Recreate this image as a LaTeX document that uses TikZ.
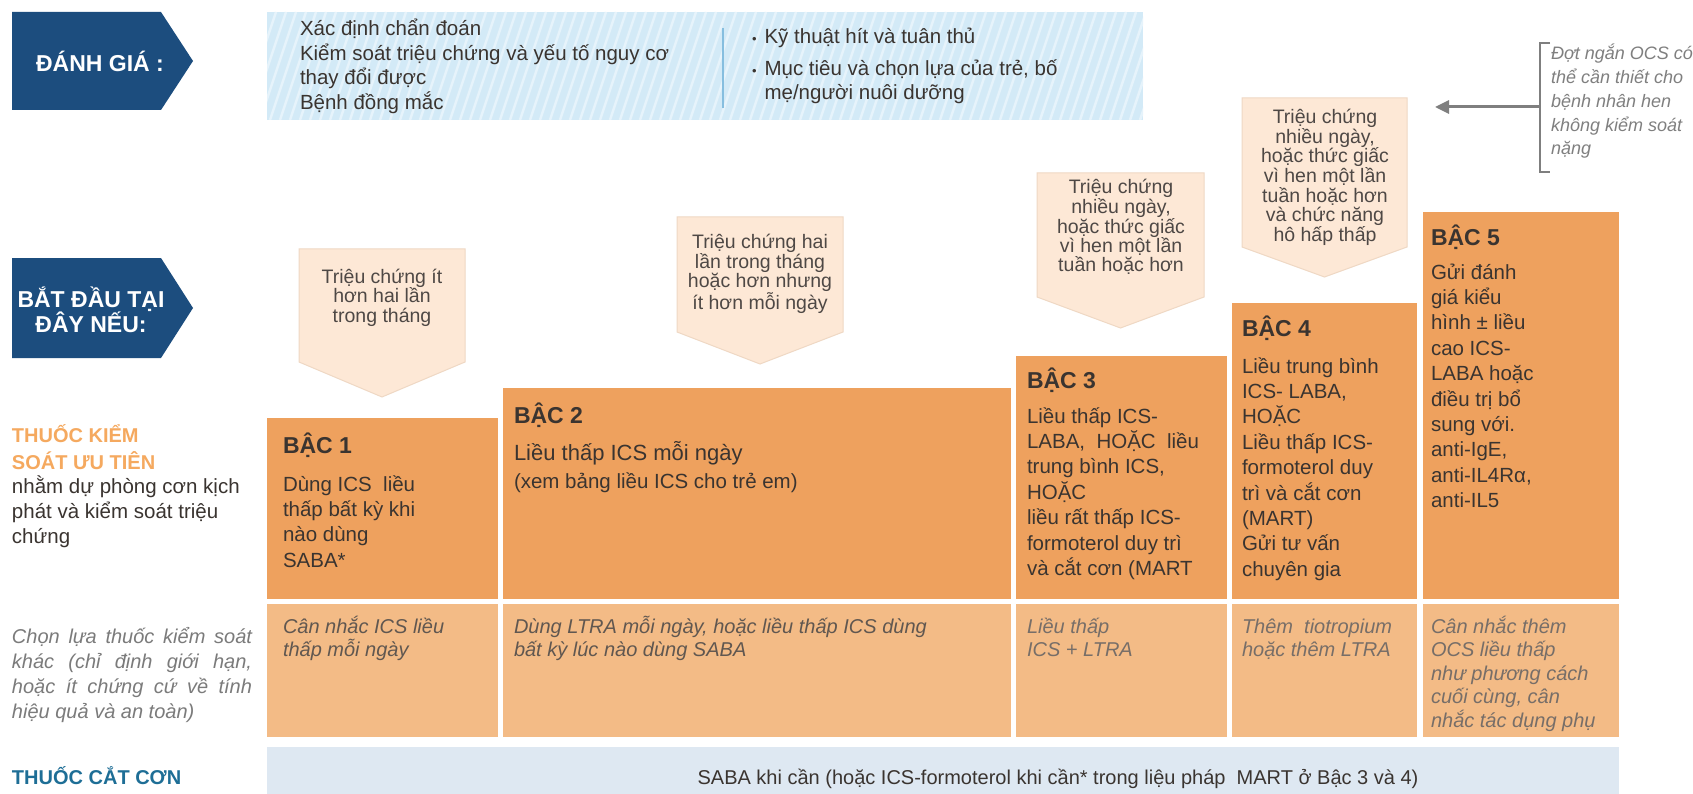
\documentclass[tikz,border=0pt]{standalone}
\usepackage{fontspec}
\setmainfont{Liberation Sans}
\usetikzlibrary{arrows.meta,positioning}

\definecolor{navy}{HTML}{1C4D7E}
\definecolor{sky}{HTML}{D3EAF7}
\definecolor{skystripe}{HTML}{E6F3FB}
\definecolor{skyrule}{HTML}{86BEDF}
\definecolor{cuefill}{HTML}{FDE8D6}
\definecolor{cueedge}{HTML}{EFD8C4}
\definecolor{stepdark}{HTML}{EEA15E}
\definecolor{steplight}{HTML}{F3BB86}
\definecolor{relieverbar}{HTML}{DEE8F2}
\definecolor{ink}{HTML}{3A3430}
\definecolor{softink}{HTML}{605750}
\definecolor{paleink}{HTML}{776E68}
\definecolor{greyink}{HTML}{7B7B7B}
\definecolor{orangehead}{HTML}{F5A95F}
\definecolor{tealhead}{HTML}{1E6E96}
\definecolor{notegrey}{HTML}{7F7F7F}

\begin{document}
\begin{tikzpicture}[
    x=1pt, y=-1pt,
    every node/.style={inner sep=0pt, outer sep=0pt},
    tagtext/.style={text=white, align=center, font=\fontsize{23}{25}\selectfont\bfseries},
    listtext/.style={anchor=base west, align=left, text=ink, font=\fontsize{20.5}{24.5}\selectfont},
    cue/.style={fill=cuefill, draw=cueedge, line width=1pt},
    cuetext/.style={anchor=base, align=center, text=ink!90, font=\fontsize{19.5}{19.5}\selectfont},
    stepbox/.style={fill=stepdark, anchor=north west},
    altbox/.style={fill=steplight, anchor=north west},
    steptitle/.style={anchor=base west, text=ink, font=\fontsize{23}{25}\selectfont\bfseries},
    steptext/.style={anchor=base west, align=left, text=ink, font=\fontsize{20.5}{25.4}\selectfont},
    alttext/.style={anchor=base west, align=left, text=softink, font=\fontsize{20}{23.5}\selectfont\itshape},
    rowhead/.style={anchor=base west, align=left, font=\fontsize{20}{27}\selectfont\bfseries},
    back/.style={-{Triangle[length=14pt,width=13pt]}, draw=notegrey, line width=3pt}
]
\useasboundingbox (0,0) rectangle (1693,794);
\fill[white] (0,0) rectangle (1693,794);

% tags on the left
\fill[navy] (12,12) -- (161,12) -- (193,61) -- (161,110) -- (12,110) -- cycle;
\node[tagtext] (assess) at (100,61) {ĐÁNH GIÁ :};
\fill[navy] (12,258) -- (161,258) -- (193,308) -- (161,358) -- (12,358) -- cycle;
\node[tagtext] (startif) at (91,310) {BẮT ĐẦU TẠI\\ĐÂY NẾU:};

% assessment box (multi-line nodes sit on their last baseline)
\node[fill=sky, anchor=north west, minimum width=876pt, minimum height=108pt] (assessbox) at (267,12) {};
\begin{scope}
    \clip (assessbox.north west) rectangle (assessbox.south east);
    \foreach \s in {0,10,...,920}
        \draw[skystripe, line width=2.5pt] (230+\s,120) -- ++(36,-108);
\end{scope}
\draw[skyrule, line width=1.5pt] (723,28) -- (723,108);
\node[listtext] (assessleft) at (300,109.5)
    {Xác định chẩn đoán\\Kiểm soát triệu chứng và yếu tố nguy cơ\\thay đổi được\\Bệnh đồng mắc};
\node[listtext] (assessright) at (752,100)
    {{\fontsize{13}{13}\selectfont•}\hspace{8pt}Kỹ thuật hít và tuân thủ\\[7pt]
     {\fontsize{13}{13}\selectfont•}\hspace{8pt}Mục tiêu và chọn lựa của trẻ, bố\\
     \hphantom{{\fontsize{13}{13}\selectfont•}\hspace{8pt}}mẹ/người nuôi dưỡng};

% note on OCS
\draw[notegrey, line width=1.5pt] (1550,43) -- (1540,43) -- (1540,172) -- (1550,172);
\coordinate (brk) at (1540,107);
\coordinate (ocstip) at (1435,107);
\draw[back] (brk) -- (ocstip);
\node[anchor=base west, align=left, text=notegrey, font=\fontsize{18}{23.7}\selectfont\itshape]
    (ocsnote) at (1551,154.8) {Đợt ngắn OCS có\\thể cần thiết cho\\bệnh nhân hen\\không kiểm soát\\nặng};

% symptom cues
\foreach \i/\l/\r/\t/\b/\p in {1/299/465/249/362/397, 2/677/843/217/332/364,
                               3/1037/1204/173/297/328, 4/1242/1407/98/247/277}
    \draw[cue] (\l,\t) -- (\r,\t) -- (\r,\b) -- ({(\l+\r)/2},\p) -- (\l,\b) -- cycle;
\node[cuetext] (cue1) at (382,322) {Triệu chứng ít\\hơn hai lần\\trong tháng};
\node[cuetext] (cue2) at (760,309.5) {Triệu chứng hai\\lần trong tháng\\hoặc hơn nhưng\\ít hơn mỗi ngày};
\node[cuetext] (cue3) at (1121,272) {Triệu chứng\\nhiều ngày,\\hoặc thức giấc\\vì hen một lần\\tuần hoặc hơn};
\node[cuetext] (cue4) at (1325,241) {Triệu chứng\\nhiều ngày,\\hoặc thức giấc\\vì hen một lần\\tuần hoặc hơn\\và chức năng\\hô hấp thấp};

% steps
\foreach \i/\l/\w/\t in {1/267/231/418, 2/503/508/388, 3/1016/211/356, 4/1232/185/303, 5/1423/196/212} {
    \node[stepbox, minimum width=\w pt, minimum height={599-\t}] (step\i) at (\l,\t) {};
    \node[altbox, minimum width=\w pt, minimum height=133pt] (alt\i) at (\l,604) {};
}

\node[steptitle] (title1) at (283,453) {BẬC 1};
\node[steptext] (text1) at (283,567.2) {Dùng ICS\ \ liều\\thấp bất kỳ khi\\nào dùng\\SABA*};
\node[steptitle] (title2) at (514,423) {BẬC 2};
\node[steptext, font=\fontsize{22}{25}\selectfont] (text2) at (514,460) {Liều thấp ICS mỗi ngày};
\node[steptext] (note2) at (514,488) {(xem bảng liều ICS cho trẻ em)};
\node[steptitle] (title3) at (1027,388) {BẬC 3};
\node[steptext] (text3) at (1027,575.4) {Liều thấp ICS-\\LABA,\ \ HOẶC\ \ liều\\trung bình ICS,\\HOẶC\\liều rất thấp ICS-\\formoterol duy trì\\và cắt cơn (MART};
\node[steptitle] (title4) at (1242,336) {BẬC 4};
\node[steptext] (text4) at (1242,576.2) {Liều trung bình\\ICS- LABA,\\HOẶC\\Liều thấp ICS-\\formoterol duy\\trì và cắt cơn\\(MART)\\Gửi tư vấn\\chuyên gia};
\node[steptitle] (title5) at (1431,245) {BẬC 5};
\node[steptext] (text5) at (1431,507.6) {Gửi đánh\\giá kiểu\\hình ± liều\\cao ICS-\\LABA hoặc\\điều trị bổ\\sung với.\\anti-IgE,\\anti-IL4Rα,\\anti-IL5};

% other controller options
\node[alttext] (other1) at (283,656.5) {Cân nhắc ICS liều\\thấp mỗi ngày};
\node[alttext] (other2) at (514,656.5) {Dùng LTRA mỗi ngày, hoặc liều thấp ICS dùng\\bất kỳ lúc nào dùng SABA};
\node[alttext, text=paleink] (other3) at (1027,656.5) {Liều thấp\\ICS + LTRA};
\node[alttext, text=paleink] (other4) at (1242,656.5) {Thêm\ \ tiotropium\\hoặc thêm LTRA};
\node[alttext, text=paleink] (other5) at (1431,727) {Cân nhắc thêm\\OCS liều thấp\\như phương cách\\cuối cùng, cân\\nhắc tác dụng phụ};

% row labels
\node[rowhead, text=orangehead] (ctrlhead) at (12,469) {THUỐC KIỂM\\SOÁT ƯU TIÊN};
\node[anchor=base west, align=left, text=ink, font=\fontsize{20.5}{25}\selectfont]
    (ctrlnote) at (12,543) {nhằm dự phòng cơn kịch\\phát và kiểm soát triệu\\chứng};
\node[anchor=base west, align=left, text=greyink, font=\fontsize{20}{25}\selectfont\itshape]
    (othernote) at (12,718) {\makebox[240pt][s]{Chọn lựa thuốc kiểm soát}\\
    \makebox[240pt][s]{khác (chỉ định giới hạn,}\\
    \makebox[240pt][s]{hoặc ít chứng cứ về tính}\\hiệu quả và an toàn)};
\node[rowhead, text=tealhead] (relhead) at (12,784) {THUỐC CẮT CƠN};

% reliever bar
\node[fill=relieverbar, anchor=north west, minimum width=1352pt, minimum height=47pt] (relbar) at (267,747) {};
\node[anchor=base, text=ink, font=\fontsize{20}{21}\selectfont] (reltext) at (1058,784)
    {SABA khi cần (hoặc ICS-formoterol khi cần* trong liệu pháp\ \ MART ở Bậc 3 và 4)};

\end{tikzpicture}
\end{document}
